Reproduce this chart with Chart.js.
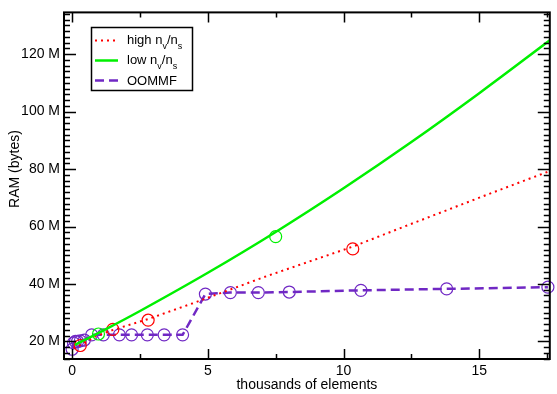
<!DOCTYPE html>
<html><head><meta charset="utf-8">
<script src="https://cdn.jsdelivr.net/npm/chart.js@4"></script>
<style>html,body{margin:0;padding:0;background:#fff}#wrap{width:557px;height:394px}</style>
</head><body><div id="wrap"><canvas id="c" width="557" height="394"></canvas></div>
<script>
// ---- data (x in thousands of elements, y in M bytes) ----
const xTicks = [0, 5, 10, 15];
const yTicks = [20, 40, 60, 80, 100, 120];

const highX = [0.05, 0.3, 0.8, 1.4, 2.8, 4.45, 7.16, 10.34, 12.3, 15.49, 17.6];
const highY = [17.6, 18.7, 21.5, 23.7, 27.8, 33.3, 42.7, 53.0, 60.2, 71.8, 79.3];
const highMarkX = [0.3, 1.5, 2.8, 10.34];
const highMarkY = [18.6, 24.2, 27.4, 52.2];

const lowX = [0.1, 1, 2.5, 5, 7.5, 10, 12.5, 15, 17.6];
const lowY = [18.8, 23.1, 30.6, 43.9, 58.1, 73.3, 89.4, 106.4, 124.8];
const lowMarkX = [0.97, 7.5];
const lowMarkY = [22.6, 56.5];

const oommfX = [0, 0.05, 0.12, 0.2, 0.3, 0.45, 0.72, 1.15, 1.74, 2.19, 2.77, 3.39, 4.07, 4.91, 5.83, 6.86, 8.0, 10.64, 13.8, 17.53];
const oommfY = [17.3, 19.5, 20.0, 20.0, 20.2, 20.5, 22.3, 22.3, 22.3, 22.3, 22.3, 22.3, 22.3, 36.5, 37.0, 37.0, 37.2, 37.8, 38.3, 38.9];

const legendLabels = [
  [['high n', 0], ['v', 1], ['/n', 0], ['s', 1]],
  [['low n', 0], ['v', 1], ['/n', 0], ['s', 1]],
  [['OOMMF', 0]]
];

const RED = '#ff0000', GREEN = '#00f000', PURPLE = '#7028c4';
const FONT = '"Liberation Sans", Arial, sans-serif';
const pts = (xs, ys) => xs.map((x, i) => ({x, y: ys[i]}));

const frame = {
  id: 'frame',
  afterDatasetsDraw(chart) {
    const {ctx, chartArea: a, scales: {x, y}} = chart;
    ctx.save();
    ctx.strokeStyle = '#000';
    ctx.lineWidth = 1.5;
    ctx.beginPath();
    for (let v = 0; v <= x.max + 1e-9; v += 2.5) {
      const px = Math.round(x.getPixelForValue(v)) + 0.5;
      const L = (Math.abs(v % 5) < 1e-6) ? 10 : 5;
      ctx.moveTo(px, a.bottom); ctx.lineTo(px, a.bottom - L);
      ctx.moveTo(px, a.top); ctx.lineTo(px, a.top + L);
    }
    for (let v = 14; v <= y.max; v += 2) {
      const py = Math.round(y.getPixelForValue(v)) + 0.5;
      const L = (v % 20 === 0) ? 12 : 6;
      ctx.moveTo(a.left, py); ctx.lineTo(a.left + L, py);
      ctx.moveTo(a.right, py); ctx.lineTo(a.right - L, py);
    }
    ctx.stroke();
    ctx.lineWidth = 2;
    ctx.strokeRect(a.left, a.top, a.right - a.left, a.bottom - a.top);

    // legend
    ctx.fillStyle = '#fff';
    ctx.fillRect(91, 27, 102, 64);
    ctx.lineWidth = 1.5;
    ctx.strokeRect(91.5, 27.5, 101, 63);
    const styles = [[RED, [2, 4], 2], [GREEN, [], 2.5], [PURPLE, [9, 5], 2.5]];
    const lineY = [40.5, 60.5, 80.5];
    const baseY = [44, 64, 85];
    for (let i = 0; i < 3; i++) {
      ctx.save();
      ctx.strokeStyle = styles[i][0];
      ctx.setLineDash(styles[i][1]);
      ctx.lineWidth = styles[i][2];
      ctx.beginPath(); ctx.moveTo(95, lineY[i]); ctx.lineTo(118, lineY[i]); ctx.stroke();
      ctx.restore();
      let tx = 127;
      ctx.fillStyle = '#000';
      ctx.textBaseline = 'alphabetic';
      ctx.textAlign = 'left';
      for (const [t, sub] of legendLabels[i]) {
        ctx.font = (sub ? '9px ' : '13px ') + FONT;
        ctx.fillText(t, tx, sub ? baseY[i] + 5 : baseY[i]);
        tx += ctx.measureText(t).width;
      }
    }
    // y title
    ctx.translate(15, 169);
    ctx.rotate(-Math.PI / 2);
    ctx.font = '14px ' + FONT;
    ctx.textAlign = 'center';
    ctx.textBaseline = 'middle';
    ctx.fillStyle = '#000';
    ctx.fillText('RAM (bytes)', 0, 0);
    ctx.restore();
  }
};

const markerDs = (data, color) => ({
  data, showLine: false, pointRadius: 6, pointHoverRadius: 6, pointStyle: 'circle',
  pointBorderColor: color, pointBackgroundColor: 'rgba(0,0,0,0)', pointBorderWidth: 1.2, clip: false
});

new Chart(document.getElementById('c'), {
  type: 'scatter',
  data: {
    datasets: [
      {label: 'low', data: pts(lowX, lowY), showLine: true, borderColor: GREEN, borderWidth: 2.5, pointRadius: 0, tension: 0.4},
      markerDs(pts(lowMarkX, lowMarkY), GREEN),
      {label: 'high', data: pts(highX, highY), showLine: true, borderColor: RED, borderWidth: 2, borderDash: [2, 4], pointRadius: 0, tension: 0},
      markerDs(pts(highMarkX, highMarkY), RED),
      {label: 'OOMMF', data: pts(oommfX, oommfY), showLine: true, borderColor: PURPLE, borderWidth: 2.5, borderDash: [9, 5], tension: 0,
       pointRadius: 6, pointHoverRadius: 6, pointBorderColor: PURPLE, pointBackgroundColor: 'rgba(0,0,0,0)', pointBorderWidth: 1.2, clip: false}
    ]
  },
  options: {
    responsive: false, animation: false, devicePixelRatio: 1,
    layout: {padding: {top: 2, right: 6, left: 0, bottom: 0}},
    plugins: {legend: {display: false}, tooltip: {enabled: false}},
    scales: {
      x: {
        type: 'linear', min: -0.3, max: 17.6,
        afterBuildTicks: s => { s.ticks = xTicks.map(v => ({value: v})); },
        afterFit: s => { s.height = 35; },
        grid: {display: false, drawTicks: false}, border: {display: false},
        ticks: {color: '#000', font: {size: 14, family: FONT}, padding: 4, maxRotation: 0, autoSkip: false},
        title: {display: true, text: 'thousands of elements', color: '#000', font: {size: 14, family: FONT}, padding: {top: 0, bottom: 0}}
      },
      y: {
        type: 'linear', min: 13.9, max: 134.5,
        afterBuildTicks: s => { s.ticks = yTicks.map(v => ({value: v})); },
        afterFit: s => { s.width = 64; },
        grid: {display: false, drawTicks: false}, border: {display: false},
        ticks: {color: '#000', font: {size: 14, family: FONT}, padding: 4, callback: v => v + ' M'}
      }
    }
  },
  plugins: [frame]
});
</script></body></html>
